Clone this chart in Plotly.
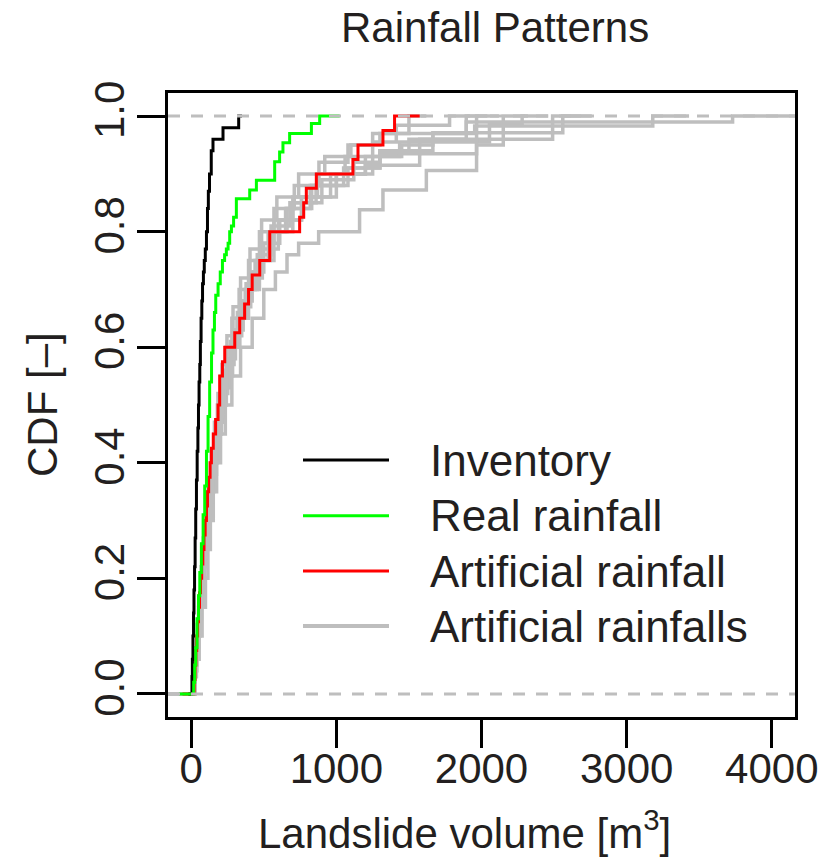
import plotly.graph_objects as go

# ---------------- data ----------------
title_text = "Rainfall Patterns"
x_title = "Landslide volume [m<sup>3</sup>]"
y_title = "CDF [–]"
x_ticks = [0, 1000, 2000, 3000, 4000]
y_ticks = [0.0, 0.2, 0.4, 0.6, 0.8, 1.0]
y_tick_labels = ["0.0", "0.2", "0.4", "0.6", "0.8", "1.0"]
legend_labels = ["Inventory", "Real rainfall", "Artificial rainfall", "Artificial rainfalls"]

# Inventory (black) step knots and CDF levels
inv_x = [5, 8, 12, 16, 19, 23, 27, 31, 36, 41, 46, 50, 54, 59, 63, 68, 73, 78, 84, 90, 97,
         105, 112, 118, 126, 138, 150, 219, 327]
inv_cdf = [0.03, 0.06, 0.10, 0.14, 0.18, 0.22, 0.27, 0.32, 0.37, 0.42, 0.46, 0.50, 0.54, 0.57,
           0.61, 0.65, 0.68, 0.71, 0.73, 0.75, 0.77, 0.80, 0.84, 0.87, 0.90, 0.94, 0.96, 0.98, 1.0]
inv_ext = [-20, 350]

# Real rainfall (green)
real_x = [17, 24, 31, 40, 50, 59, 70, 82, 93, 105, 116, 127, 140, 150, 160, 169, 185, 200, 215,
          230, 242, 254, 265, 277, 292, 311, 403, 449, 575, 609, 632, 678, 828, 885]
real_cdf = [0.02, 0.05, 0.08, 0.13, 0.17, 0.21, 0.26, 0.31, 0.36, 0.42, 0.48, 0.54, 0.59, 0.63,
            0.66, 0.69, 0.71, 0.73, 0.75, 0.76, 0.77, 0.78, 0.80, 0.81, 0.825, 0.857, 0.872,
            0.889, 0.921, 0.938, 0.954, 0.970, 0.987, 1.0]
real_ext = [-85, 1023]

# Artificial rainfall (red)
art_x = [20, 26, 32, 38, 44, 50, 57, 64, 72, 80, 88, 96, 105, 112, 120, 130, 139, 152, 168, 185,
         196, 215, 231, 300, 334, 368, 395, 420, 472, 541, 747, 775, 793, 862, 1114, 1149, 1321, 1401]
art_cdf = [0.025, 0.05, 0.075, 0.10, 0.125, 0.15, 0.175, 0.20, 0.225, 0.25, 0.275, 0.30, 0.325,
           0.35, 0.375, 0.40, 0.425, 0.45, 0.475, 0.50, 0.55, 0.575, 0.60, 0.625, 0.65, 0.675,
           0.70, 0.725, 0.75, 0.80, 0.825, 0.85, 0.875, 0.90, 0.925, 0.95, 0.975, 1.0]
art_ext = [-60, 1574]

# Artificial rainfalls (grey ensemble)
g1_x = [24, 33, 46, 60, 76, 93, 112, 132, 155, 180, 208, 242, 285, 335, 395, 470, 570, 700, 900, 1120, 1300, 1500, 1895, 3730]
g1_cdf = [0.03, 0.06, 0.10, 0.15, 0.20, 0.25, 0.30, 0.35, 0.40, 0.45, 0.50, 0.55, 0.60, 0.65, 0.70, 0.75, 0.80, 0.85, 0.89, 0.92, 0.94, 0.96, 0.99, 1.0]
g2_x = [26, 36, 50, 66, 83, 101, 120, 141, 164, 190, 218, 252, 295, 348, 410, 490, 600, 760, 1000, 1250, 1450, 1665, 1953, 3180]
g2_cdf = [0.04, 0.08, 0.12, 0.17, 0.22, 0.27, 0.32, 0.37, 0.42, 0.47, 0.52, 0.57, 0.62, 0.67, 0.72, 0.77, 0.82, 0.86, 0.90, 0.93, 0.95, 0.97, 0.983, 1.0]
g3_x = [23, 31, 44, 58, 73, 89, 107, 126, 148, 172, 198, 230, 270, 318, 378, 455, 550, 680, 860, 1080, 1300, 1665, 2560]
g3_cdf = [0.03, 0.07, 0.11, 0.16, 0.21, 0.26, 0.31, 0.36, 0.41, 0.46, 0.51, 0.56, 0.61, 0.66, 0.71, 0.76, 0.81, 0.85, 0.88, 0.91, 0.94, 0.971, 1.0]
g4_x = [20, 28, 40, 55, 70, 86, 104, 124, 146, 170, 196, 228, 268, 316, 372, 440, 530, 650, 830, 1050, 1300, 1574, 2490]
g4_cdf = [0.025, 0.05, 0.10, 0.15, 0.20, 0.25, 0.30, 0.35, 0.40, 0.45, 0.50, 0.55, 0.60, 0.65, 0.70, 0.75, 0.80, 0.84, 0.88, 0.91, 0.935, 0.96, 1.0]
g5_x = [27, 38, 54, 71, 89, 108, 128, 150, 174, 200, 228, 262, 305, 358, 420, 500, 610, 760, 960, 1200, 1436, 2055, 2280]
g5_cdf = [0.04, 0.08, 0.13, 0.18, 0.23, 0.28, 0.33, 0.38, 0.43, 0.48, 0.53, 0.58, 0.63, 0.68, 0.73, 0.78, 0.82, 0.86, 0.90, 0.93, 0.955, 0.985, 1.0]
g6_x = [22, 30, 43, 57, 72, 88, 106, 126, 148, 172, 198, 230, 270, 320, 380, 455, 545, 660, 820, 1000, 1200, 1574, 1966]
g6_cdf = [0.03, 0.06, 0.10, 0.15, 0.20, 0.25, 0.30, 0.35, 0.40, 0.45, 0.50, 0.55, 0.60, 0.65, 0.70, 0.75, 0.80, 0.84, 0.88, 0.90, 0.915, 0.935, 1.0]
g7_x = [25, 36, 55, 75, 98, 115, 132, 152, 175, 202, 235, 280, 340, 420, 500, 580, 660, 740, 878, 1160, 1321, 1620, 1966, 2150]
g7_cdf = [0.03, 0.06, 0.10, 0.15, 0.20, 0.25, 0.30, 0.35, 0.40, 0.45, 0.50, 0.55, 0.60, 0.65, 0.70, 0.73, 0.76, 0.78, 0.80, 0.838, 0.872, 0.906, 0.95, 1.0]
g8_x = [21, 29, 41, 54, 68, 83, 100, 118, 138, 160, 184, 212, 246, 288, 340, 405, 485, 590, 740, 920, 1100, 1300, 1895]
g8_cdf = [0.035, 0.07, 0.12, 0.17, 0.22, 0.27, 0.32, 0.37, 0.42, 0.47, 0.52, 0.57, 0.62, 0.67, 0.72, 0.77, 0.82, 0.86, 0.90, 0.93, 0.95, 0.97, 1.0]
g9_x = [20, 27, 38, 51, 65, 80, 96, 114, 134, 156, 180, 208, 240, 280, 330, 395, 470, 570, 710, 880, 1080, 1250, 1500]
g9_cdf = [0.03, 0.06, 0.10, 0.15, 0.20, 0.25, 0.30, 0.35, 0.40, 0.45, 0.50, 0.55, 0.60, 0.65, 0.70, 0.75, 0.80, 0.84, 0.88, 0.92, 0.95, 0.97, 1.0]
g10_x = [24, 34, 49, 65, 82, 100, 119, 140, 163, 188, 215, 248, 290, 340, 400, 475, 570, 700, 870, 1060, 1250, 1413, 1780]
g10_cdf = [0.04, 0.08, 0.13, 0.18, 0.23, 0.28, 0.33, 0.38, 0.43, 0.48, 0.53, 0.58, 0.63, 0.68, 0.73, 0.78, 0.82, 0.86, 0.90, 0.93, 0.955, 0.984, 1.0]
grey_x = [g1_x, g2_x, g3_x, g4_x, g5_x, g6_x, g7_x, g8_x, g9_x, g10_x]
grey_cdf = [g1_cdf, g2_cdf, g3_cdf, g4_cdf, g5_cdf, g6_cdf, g7_cdf, g8_cdf, g9_cdf, g10_cdf]
grey_ext_left = [-200] * 10
grey_ext_right = [4200, 3430, 2760, 2690, 2460, 2120, 2320, 2040, 1620, 1920]

# ---------------- styling ----------------
FONT = "Liberation Sans"
C_INV, C_REAL, C_ART, C_GREY = "#000000", "#00FF00", "#FF0000", "#BEBEBE"
C_TEXT = "#231F20"

W, H = 829, 858
L, R, T, B = 168, 34, 93, 141
PW, PH = W - L - R, H - T - B


def px_x(p):
    return (p - L) / PW


def px_y(p):
    return (H - B - p) / PH


def step_trace(xs, cdf, ext, color, width):
    return go.Scatter(
        x=[ext[0]] + list(xs) + [ext[1]],
        y=[0.0] + list(cdf) + [cdf[-1]],
        mode="lines", line=dict(color=color, width=width, shape="hv"),
        showlegend=False, hoverinfo="skip",
    )


fig = go.Figure()
for gx, gc, el, er in zip(grey_x, grey_cdf, grey_ext_left, grey_ext_right):
    fig.add_trace(step_trace(gx, gc, [el, er], C_GREY, 3.5))
fig.add_trace(step_trace(art_x, art_cdf, art_ext, C_ART, 3))
fig.add_trace(step_trace(inv_x, inv_cdf, inv_ext, C_INV, 3))
fig.add_trace(step_trace(real_x, real_cdf, real_ext, C_REAL, 3))

shapes = []
for yv in (0.0, 1.0):
    shapes.append(dict(type="line", xref="paper", x0=0, x1=1, yref="y", y0=yv, y1=yv,
                       line=dict(color=C_GREY, width=3, dash="12px,11px"), layer="above"))

annotations = [
    dict(text=title_text, x=px_x(495), y=px_y(28), xref="paper", yref="paper",
         showarrow=False, xanchor="center", yanchor="middle",
         font=dict(family=FONT, size=42, color=C_TEXT)),
    dict(text=x_title, x=px_x(464), y=px_y(830), xref="paper", yref="paper",
         showarrow=False, xanchor="center", yanchor="middle",
         font=dict(family=FONT, size=42, color=C_TEXT)),
    dict(text=y_title, x=px_x(42), y=px_y(405), xref="paper", yref="paper",
         showarrow=False, xanchor="center", yanchor="middle", textangle=-90,
         font=dict(family=FONT, size=42, color=C_TEXT)),
]

legend_colors = [C_INV, C_REAL, C_ART, C_GREY]
legend_widths = [3, 3, 3, 4]
legend_rows = [460, 515.7, 571, 626]
for lab, col, lw, ry in zip(legend_labels, legend_colors, legend_widths, legend_rows):
    shapes.append(dict(type="line", xref="paper", yref="paper",
                       x0=px_x(303), x1=px_x(389), y0=px_y(ry), y1=px_y(ry),
                       line=dict(color=col, width=lw)))
    annotations.append(dict(text=lab, x=px_x(428), y=px_y(ry), xref="paper", yref="paper",
                            showarrow=False, xanchor="left", yanchor="middle",
                            font=dict(family=FONT, size=44, color=C_TEXT)))

axis_common = dict(
    showgrid=False, zeroline=False, showline=True, linecolor="black", linewidth=3,
    mirror=True, ticks="outside", ticklen=28, tickwidth=3, tickcolor="black",
    tickfont=dict(family=FONT, size=42, color=C_TEXT),
)

fig.update_layout(
    width=W, height=H,
    margin=dict(l=L, r=R, t=T, b=B),
    paper_bgcolor="white", plot_bgcolor="white",
    showlegend=False,
    xaxis=dict(range=[-160, 4160], tickvals=x_ticks, ticktext=[str(v) for v in x_ticks],
               ticklabelstandoff=-15, **axis_common),
    yaxis=dict(range=[-0.04, 1.04], tickvals=y_ticks, ticktext=y_tick_labels,
               tickangle=-90, ticklabelstandoff=-4, **axis_common),
    shapes=shapes,
    annotations=annotations,
)

fig.write_html("out.html")
